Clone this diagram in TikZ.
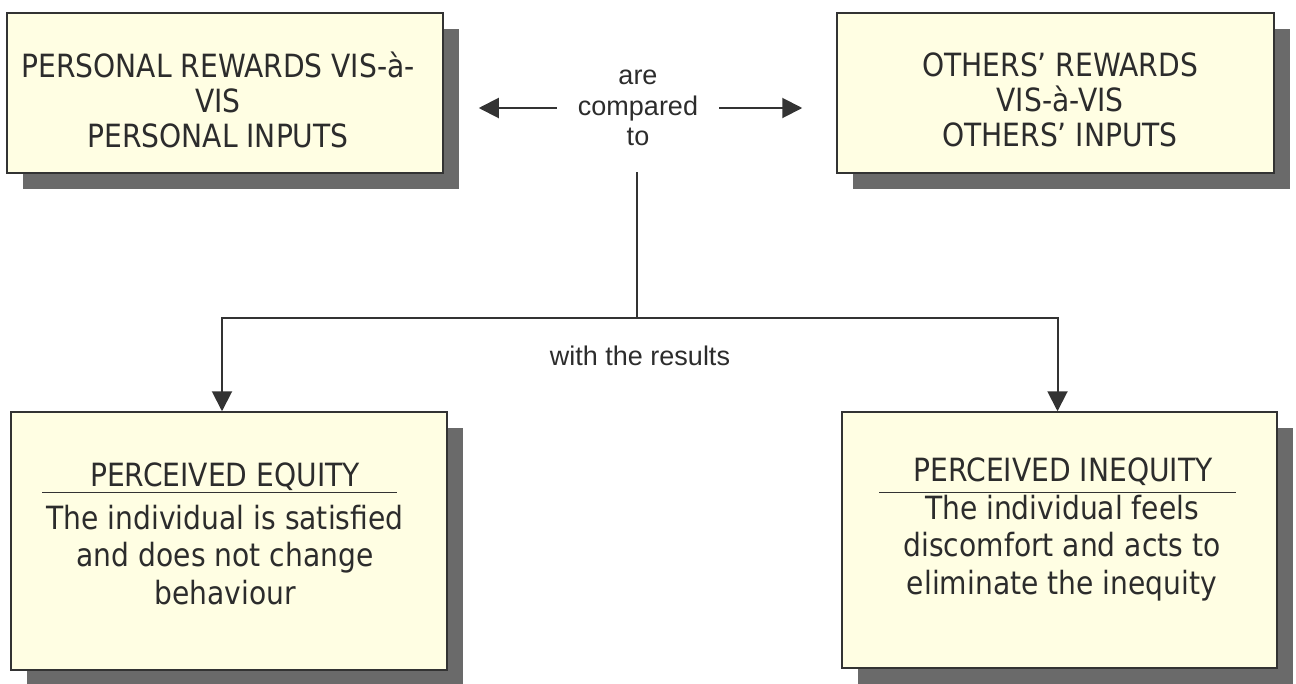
\documentclass[tikz,border=0pt]{standalone}
\usepackage{fontspec}
\setmainfont{DejaVu Sans}[FakeStretch=0.88]
\newfontfamily\labelfont{Liberation Sans}
\usetikzlibrary{arrows.meta,shadows,calc}
\definecolor{boxfill}{HTML}{FFFEE3}
\definecolor{ink}{HTML}{2C2C2C}
\definecolor{edge}{HTML}{333333}
\definecolor{shade}{HTML}{6A6A6A}
\tikzset{
  card/.style={draw=edge, line width=1.5pt, fill=boxfill, rectangle, inner sep=0pt,
    drop shadow={shadow xshift=16pt, shadow yshift=-16pt, fill=shade, opacity=1}},
  boxtext/.style={text=ink, align=center, inner sep=0pt, font=\fontsize{32}{35}\selectfont},
  bodytext/.style={text=ink, align=center, inner sep=0pt, font=\fontsize{32}{37.5}\selectfont},
  linktext/.style={text=ink, align=center, inner sep=0pt, font=\labelfont\fontsize{27}{30.5}\selectfont},
  link/.style={draw=edge, line width=2pt},
  arrowlink/.style={link, -{Triangle[length=20pt,width=20pt]}},
  titlerule/.style={draw=edge, line width=1.5pt},
}
\begin{document}
\begin{tikzpicture}[x=1pt,y=-1pt]
\useasboundingbox (0,0) rectangle (1296,683);

% upper pair of cards
\node[card, minimum width=436pt, minimum height=160pt] (own) at (225,93) {};
\node[card, minimum width=437pt, minimum height=160pt] (oth) at (1055.5,93) {};
\node[boxtext] (ownt) at (218,100) {PERSONAL REWARDS VIS-à-\\VIS\\PERSONAL INPUTS};
\node[boxtext] (otht) at (1060,100) {OTHERS’ REWARDS\\VIS-à-VIS\\OTHERS’ INPUTS};

% comparison label with its two arrows
\node[linktext, inner xsep=21pt] (cmp) at (638,108) {are\\compared\\to};
\draw[arrowlink, shorten >=35pt] (cmp.west) -- (cmp.west -| own.east);
\draw[arrowlink, shorten >=34pt] (cmp.east) -- (cmp.east -| oth.west);

% stem and fork down to the outcomes
\coordinate (stem) at (637,172);
\coordinate (split) at (637,318);
\draw[link] (stem) -- (split);
\node[linktext] (res) at (640,356) {with the results};

% lower pair of cards
\node[card, minimum width=436pt, minimum height=258pt] (eq) at (229,541) {};
\node[card, minimum width=435pt, minimum height=256pt] (ineq) at (1059.5,540) {};

\draw[arrowlink] (split) -| ($(eq.north)+(-7,0)$);
\draw[arrowlink] (split) -| ($(ineq.north)+(-2,0)$);

\node[boxtext] (eqtitle) at (225,477) {PERCEIVED EQUITY};
\draw[titlerule] ($(eq.north west)+(32,81)$) -- ++(355,0);
\node[bodytext] (eqbody) at (225,555) {The individual is satisfied\\and does not change\\behaviour};

\node[boxtext] (ineqtitle) at (1063,472) {PERCEIVED INEQUITY};
\draw[titlerule] ($(ineq.north west)+(38,81)$) -- ++(357,0);
\node[bodytext] (ineqbody) at (1062,548) {The individual feels\\discomfort and acts to\\eliminate the inequity};
\end{tikzpicture}
\end{document}
